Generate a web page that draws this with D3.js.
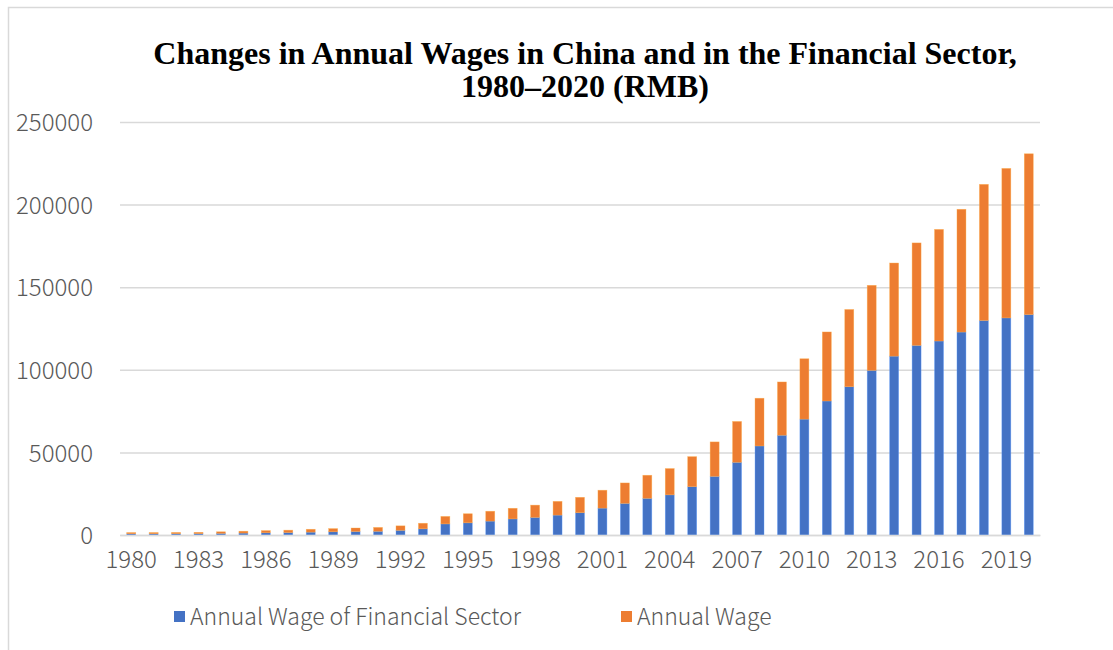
<!DOCTYPE html>
<html>
<head>
<meta charset="utf-8">
<script src="https://cdn.jsdelivr.net/npm/d3@7"></script>
<style>
  html, body { margin: 0; padding: 0; background: #fff; }
  svg { display: block; }
  .tick-label { font-family: "Noto Sans CJK SC", "Noto Sans", sans-serif; font-weight: 300; fill: #595959; }
</style>
</head>
<body>
<svg id="chart" width="1113" height="650"></svg>
<script>
// Years on the category axis
const years = [1980, 1981, 1982, 1983, 1984, 1985, 1986, 1987, 1988, 1989,
               1990, 1991, 1992, 1993, 1994, 1995, 1996, 1997, 1998, 1999,
               2000, 2001, 2002, 2003, 2004, 2005, 2006, 2007, 2008, 2009,
               2010, 2011, 2012, 2013, 2014, 2015, 2016, 2017, 2018, 2019, 2020];

// Average annual wage in the financial sector (RMB)
const financeWage = [720, 729, 759, 794, 976, 1154, 1336, 1473, 1731, 1935,
                     2097, 2255, 2829, 3740, 6712, 7376, 8406, 9734, 10633, 12046,
                     13478, 16277, 19135, 22200, 24299, 29229, 35495, 44011, 53897, 60398,
                     70146, 81109, 89743, 99653, 108273, 114777, 117418, 122851, 129837, 131405, 133390];

// Average annual wage, all urban units (RMB)
const annualWage = [762, 772, 798, 826, 974, 1148, 1329, 1459, 1747, 1935,
                    2140, 2340, 2711, 3371, 4538, 5500, 5980, 6444, 7446, 8319,
                    9333, 10834, 12373, 13969, 15920, 18200, 20856, 24721, 28898, 32244,
                    36539, 41799, 46769, 51483, 56360, 62029, 67569, 74318, 82413, 90501, 97379];

const seriesNames = ["Annual Wage of Financial Sector", "Annual Wage"];
const seriesColors = ["#4472C4", "#ED7D31"];

const yTicks = [0, 50000, 100000, 150000, 200000, 250000];
const xTickYears = [1980, 1983, 1986, 1989, 1992, 1995, 1998, 2001, 2004, 2007, 2010, 2013, 2016, 2019];

const titleLines = ["Changes in Annual Wages in China and in the Financial Sector,", "1980\u20132020 (RMB)"];

const svg = d3.select("#chart");
const W = 1113, H = 650;

// chart frame
svg.append("rect")
  .attr("x", 8.5).attr("y", 7.5)
  .attr("width", W + 20).attr("height", H + 20)
  .attr("fill", "#fff").attr("stroke", "#D9D9D9").attr("stroke-width", 1.5);

const plot = { left: 120, right: 1040, top: 122, bottom: 535 };

const x = d3.scaleBand().domain(years).range([plot.left, plot.right]).paddingInner(0.6).paddingOuter(0.3);
const y = d3.scaleLinear().domain([0, 250000]).range([plot.bottom, plot.top]);

// gridlines and value labels
const yAxis = d3.axisLeft(y).tickValues(yTicks).tickSize(-(plot.right - plot.left)).tickPadding(27).tickFormat(d3.format("d"));
const gy = svg.append("g").attr("transform", `translate(${plot.left},0)`).call(yAxis);
gy.select(".domain").remove();
gy.selectAll(".tick line").attr("stroke", "#D9D9D9").attr("stroke-width", 1.5);
gy.selectAll(".tick text").attr("class", "tick-label").style("font-size", "24px").attr("dy", "0.36em");

// stacked bars
const table = years.map((yr, i) => ({ year: yr, fin: financeWage[i], avg: annualWage[i] }));
const stacked = d3.stack().keys(["fin", "avg"])(table);

svg.append("g").selectAll("g")
  .data(stacked)
  .join("g")
  .attr("fill", (d, i) => seriesColors[i])
  .attr("stroke", (d, i) => d3.color(seriesColors[i]).brighter(0.9))
  .selectAll("rect")
  .data(d => d)
  .join("rect")
  .attr("x", d => x(d.data.year))
  .attr("width", x.bandwidth())
  .attr("y", d => y(d[1]))
  .attr("height", d => y(d[0]) - y(d[1]))
  .attr("stroke-opacity", 0.6).attr("stroke-width", 0.6);

// category axis
const xAxis = d3.axisBottom(x).tickValues(xTickYears).tickSize(0).tickPadding(16);
const gx = svg.append("g").attr("transform", `translate(0,${plot.bottom})`).call(xAxis);
gx.select(".domain").attr("stroke", "#D9D9D9").attr("stroke-width", 1.5);
gx.selectAll(".tick text").attr("class", "tick-label").style("font-size", "24px");

// title
const title = svg.append("text")
  .attr("text-anchor", "middle")
  .style("font-family", "'Liberation Serif', 'Times New Roman', serif")
  .style("font-weight", "bold").style("font-size", "32px").attr("fill", "#000");
title.append("tspan").attr("x", 585).attr("y", 64).text(titleLines[0]);
title.append("tspan").attr("x", 585).attr("y", 97).text(titleLines[1]);

// legend
const legendX = [174, 621];
const legend = svg.append("g").selectAll("g").data(seriesNames).join("g")
  .attr("transform", (d, i) => `translate(${legendX[i]},611)`);
legend.append("rect").attr("width", 11).attr("height", 11).attr("fill", (d, i) => seriesColors[i]);
legend.append("text").attr("class", "tick-label").attr("x", 16).attr("y", 5.5).attr("dy", "0.36em")
  .style("font-size", "23px").text(d => d);
</script>
</body>
</html>
